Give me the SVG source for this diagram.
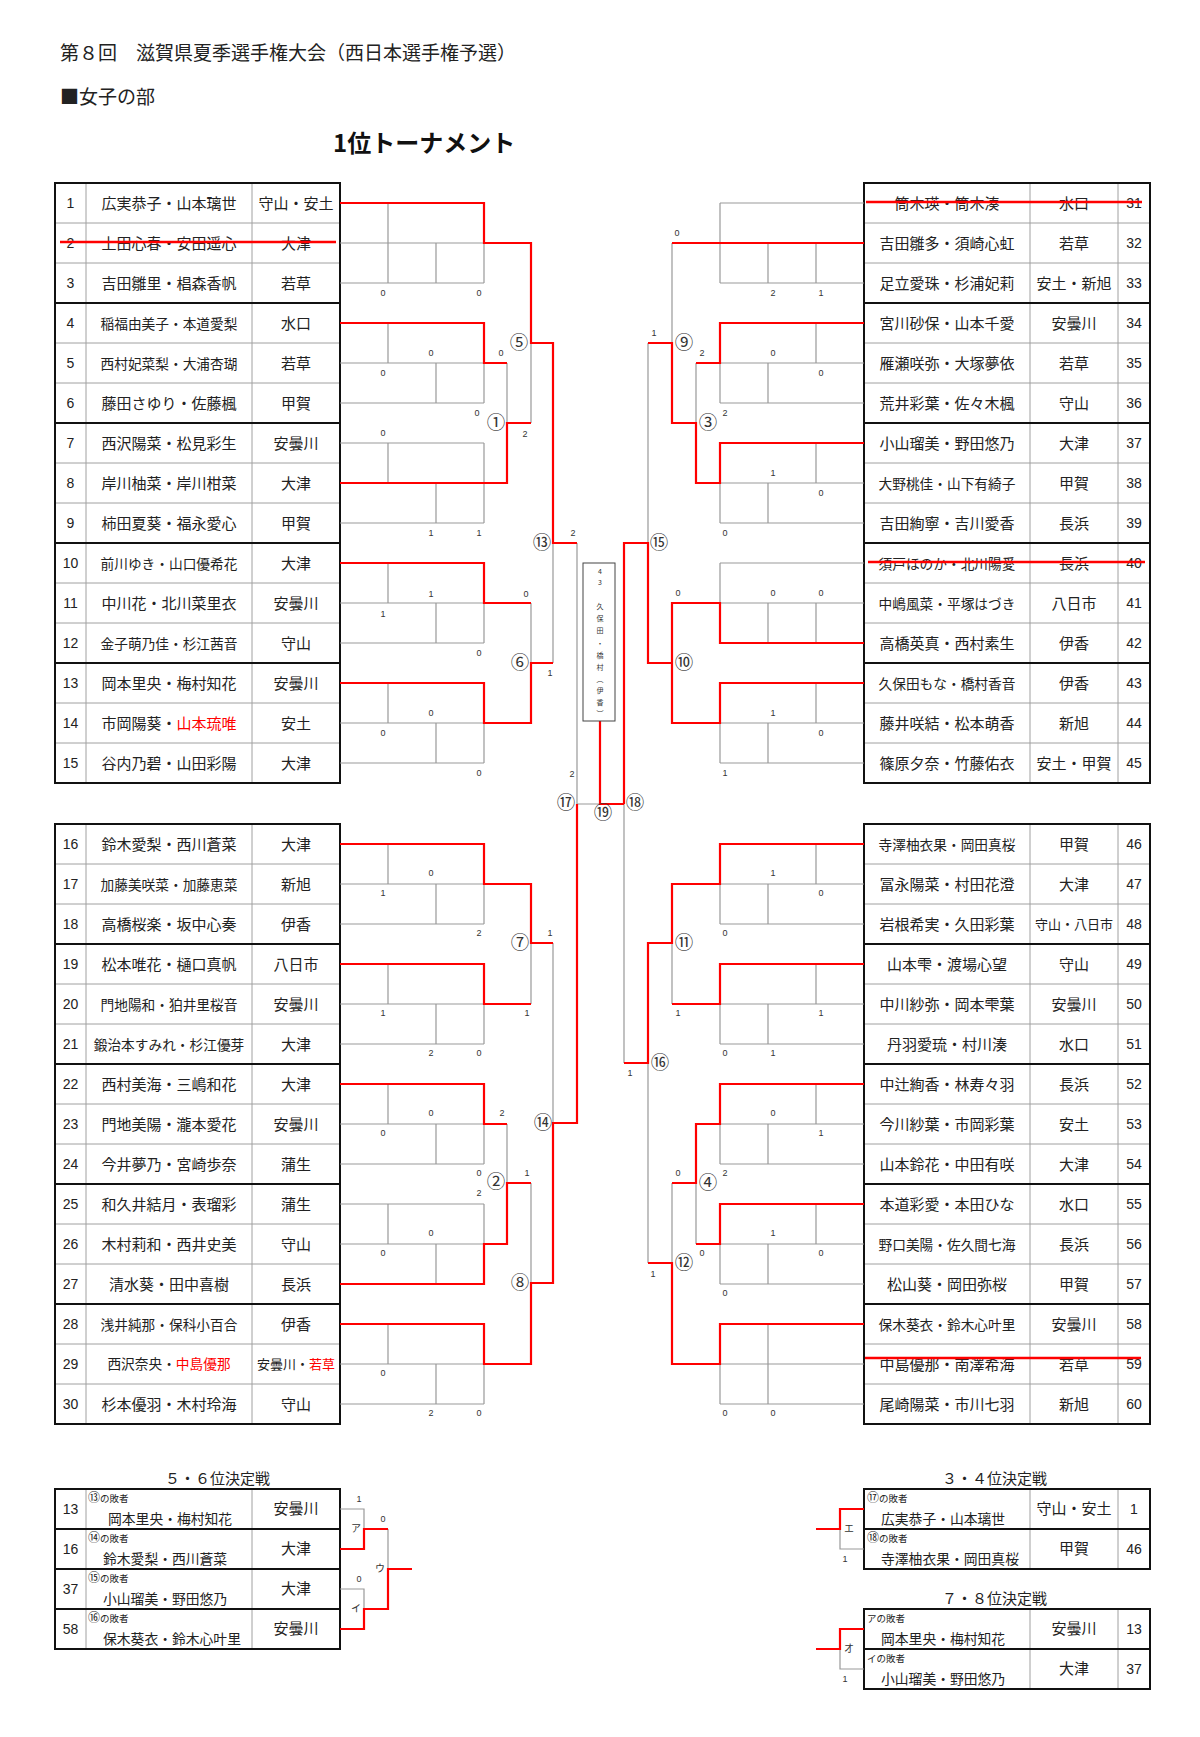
<svg xmlns="http://www.w3.org/2000/svg" width="1200" height="1737" viewBox="0 0 1200 1737">
<style>
.g{stroke:#999;stroke-width:1.2;fill:none}
.r{stroke:#f00;stroke-width:2.2;fill:none}
.tk{stroke:#111;stroke-width:2;fill:none}
.tn{stroke:#a0a0a0;stroke-width:1;fill:none}
.st{stroke:#f00;stroke-width:2.4}
text{font-family:"Noto Sans CJK JP","Noto Sans CJK SC",sans-serif;fill:#222}
.n{font-family:"Liberation Sans",Arial,sans-serif;font-size:14px;text-anchor:middle}
.m{font-size:15px;text-anchor:middle}
.m10{font-size:13.7px}
.t{font-size:15px;text-anchor:middle}
.t6{font-size:13px}
.sc{font-family:"Liberation Sans",Arial,sans-serif;font-size:9px;text-anchor:middle;fill:#333}
.lb{font-size:18.5px;text-anchor:middle;fill:#333}
.kn{font-size:10px;text-anchor:middle;fill:#333}
.sm{font-size:9.5px}
.ci{font-size:12px}
.bn{font-size:13.8px}
.red{fill:#f00}
.vt{font-size:7px;text-anchor:middle;fill:#333}
</style>
<rect width="1200" height="1737" fill="#fff"/>

<g id="header">
<text x="60" y="60" style="font-size:19px">第８回　滋賀県夏季選手権大会（西日本選手権予選）</text>
<text x="60" y="104" style="font-size:19px">■女子の部</text>
<text x="333" y="152" style="font-size:24px;font-weight:700;fill:#111">1位トーナメント</text>
</g>

<g id="tables">
<path class="tn" d="M55,223H340M55,263H340M55,343H340M55,383H340M55,463H340M55,503H340M55,583H340M55,623H340M55,703H340M55,743H340M86,183V783M252,183V783"/>
<path class="tk" d="M55,303H340M55,423H340M55,543H340M55,663H340"/>
<rect class="tk" x="55" y="183" width="285" height="600"/>
<path class="tn" d="M55,864H340M55,904H340M55,984H340M55,1024H340M55,1104H340M55,1144H340M55,1224H340M55,1264H340M55,1344H340M55,1384H340M86,824V1424M252,824V1424"/>
<path class="tk" d="M55,944H340M55,1064H340M55,1184H340M55,1304H340"/>
<rect class="tk" x="55" y="824" width="285" height="600"/>
<path class="tn" d="M864,223H1150M864,263H1150M864,343H1150M864,383H1150M864,463H1150M864,503H1150M864,583H1150M864,623H1150M864,703H1150M864,743H1150M1030,183V783M1118,183V783"/>
<path class="tk" d="M864,303H1150M864,423H1150M864,543H1150M864,663H1150"/>
<rect class="tk" x="864" y="183" width="286" height="600"/>
<path class="tn" d="M864,864H1150M864,904H1150M864,984H1150M864,1024H1150M864,1104H1150M864,1144H1150M864,1224H1150M864,1264H1150M864,1344H1150M864,1384H1150M1030,824V1424M1118,824V1424"/>
<path class="tk" d="M864,944H1150M864,1064H1150M864,1184H1150M864,1304H1150"/>
<rect class="tk" x="864" y="824" width="286" height="600"/>
<path class="tn" d="M86,1489V1649M252,1489V1649M1030,1489V1569M1118,1489V1569M1030,1609V1689M1118,1609V1689"/>
<path class="tk" d="M55,1529H340M55,1569H340M55,1609H340M864,1529H1150M864,1649H1150"/>
<rect class="tk" x="55" y="1489" width="285" height="160"/>
<rect class="tk" x="864" y="1489" width="286" height="80"/>
<rect class="tk" x="864" y="1609" width="286" height="80"/>
</g>

<g id="connectors">
<path class="g" d="M340,203H484M340,243H484M340,283H484M388,203V283M436,243V283M484,203V283
M340,323H484M340,363H484M340,403H484M388,323V363M436,363V403M484,323V403
M340,443H484M340,483H484M340,523H484M388,443V483M436,483V523M484,443V523
M340,563H484M340,603H484M340,643H484M388,563V603M436,603V643M484,563V643
M340,683H484M340,723H484M340,763H484M388,683V723M436,723V763M484,683V763
M340,844H484M340,884H484M340,924H484M388,844V884M436,884V924M484,844V924
M340,964H484M340,1004H484M340,1044H484M388,964V1004M436,1004V1044M484,964V1044
M340,1084H484M340,1124H484M340,1164H484M388,1084V1124M436,1124V1164M484,1084V1164
M340,1204H484M340,1244H484M340,1284H484M388,1204V1244M436,1244V1284M484,1204V1284
M340,1324H484M340,1364H484M340,1404H484M388,1324V1364M436,1364V1404M484,1324V1404
M507,363V483M531,243V423M531,603V723M553,343V663M531,884V1004M507,1124V1244M531,1183V1364M553,943V1283M577,543V1123M577,804H600"/>
<path class="g" d="M864,203H720M864,243H720M864,283H720M720,203V283M768,243V283M816,243V283
M864,323H720M864,363H720M864,403H720M720,323V403M768,363V403M816,323V363
M864,443H720M864,483H720M864,523H720M720,443V523M768,483V523M816,443V483
M864,563H720M864,603H720M864,643H720M720,563V643M768,603V643M816,603V643
M864,683H720M864,723H720M864,763H720M720,683V763M768,723V763M816,683V723
M864,844H720M864,884H720M864,924H720M720,844V924M768,884V924M816,844V884
M864,964H720M864,1004H720M864,1044H720M720,964V1044M768,1004V1044M816,964V1004
M864,1084H720M864,1124H720M864,1164H720M720,1084V1164M768,1124V1164M816,1084V1124
M864,1204H720M864,1244H720M864,1284H720M720,1204V1284M768,1244V1284M816,1204V1244
M864,1324H720M864,1364H720M864,1404H720M720,1324V1404M768,1324V1404
M672,243V423M696,363V483M672,603V723M648,343V663M672,884V1004M696,1124V1244M672,1183V1364M648,943V1263M624,543V1063"/>
<path class="r" d="M340,203H484V243H531V343H553V543H577
M340,323H484V363H507
M340,483H507V423H531
M340,563H484V603H531
M340,683H484V723H531V663H553
M340,844H484V884H531V943H553
M340,964H484V1004H531
M340,1084H484V1124H507
M340,1284H484V1244H507V1183H531
M340,1324H484V1364H531V1283H553V1123H577V804
M600,721V804H624
M864,243H672
M864,323H720V363H696
M864,443H720V483H696V423H672V343H648
M864,643H720V603H672V663
M864,683H720V723H672V663H648V543H624V804
M864,844H720V884H672V943H648V1063H624
M864,964H720V1004H672
M864,1084H720V1124H696V1183H672
M864,1204H720V1244H696
M864,1324H720V1364H672V1263H648"/>
<path class="g" d="M340,1509H364V1549M340,1589H364V1629M388,1529V1569M840,1529V1549H864M840,1649V1669H864"/>
<path class="r" d="M340,1549H364V1529H388M340,1629H364V1609H388V1569H412M864,1509H840V1529H816M864,1629H840V1649H816"/>
</g>

<g id="match-labels">
<text class="lb" x="496" y="429">①</text>
<text class="lb" x="496" y="1188">②</text>
<text class="lb" x="708" y="429">③</text>
<text class="lb" x="708" y="1189">④</text>
<text class="lb" x="519" y="349">⑤</text>
<text class="lb" x="520" y="669">⑥</text>
<text class="lb" x="520" y="949">⑦</text>
<text class="lb" x="520" y="1289">⑧</text>
<text class="lb" x="684" y="349">⑨</text>
<text class="lb" x="684" y="669">⑩</text>
<text class="lb" x="684" y="949">⑪</text>
<text class="lb" x="684" y="1269">⑫</text>
<text class="lb" x="542" y="549">⑬</text>
<text class="lb" x="543" y="1129">⑭</text>
<text class="lb" x="659" y="549">⑮</text>
<text class="lb" x="660" y="1069">⑯</text>
<text class="lb" x="566" y="809">⑰</text>
<text class="lb" x="635" y="809">⑱</text>
<text class="lb" x="603" y="819">⑲</text>
<text class="kn" x="356" y="1532">ア</text>
<text class="kn" x="356" y="1612">イ</text>
<text class="kn" x="380" y="1572">ウ</text>
<text class="kn" x="849" y="1532">エ</text>
<text class="kn" x="849" y="1652">オ</text>
</g>

<g id="scores">
<text class="sc" x="383" y="296">0</text><text class="sc" x="479" y="296">0</text>
<text class="sc" x="431" y="356">0</text><text class="sc" x="383" y="376">0</text><text class="sc" x="501" y="356">0</text><text class="sc" x="477" y="416">0</text>
<text class="sc" x="525" y="437">2</text>
<text class="sc" x="383" y="436">0</text><text class="sc" x="431" y="536">1</text><text class="sc" x="479" y="536">1</text>
<text class="sc" x="573" y="536">2</text>
<text class="sc" x="431" y="597">1</text><text class="sc" x="383" y="617">1</text><text class="sc" x="526" y="597">0</text><text class="sc" x="479" y="656">0</text>
<text class="sc" x="550" y="676">1</text>
<text class="sc" x="431" y="716">0</text><text class="sc" x="383" y="736">0</text><text class="sc" x="479" y="776">0</text>
<text class="sc" x="572" y="777">2</text>
<text class="sc" x="431" y="876">0</text><text class="sc" x="383" y="896">1</text><text class="sc" x="479" y="936">2</text>
<text class="sc" x="550" y="936">1</text><text class="sc" x="527" y="1016">1</text>
<text class="sc" x="383" y="1016">1</text><text class="sc" x="431" y="1056">2</text><text class="sc" x="479" y="1056">0</text>
<text class="sc" x="431" y="1116">0</text><text class="sc" x="502" y="1116">2</text><text class="sc" x="383" y="1136">0</text><text class="sc" x="479" y="1176">0</text>
<text class="sc" x="527" y="1176">1</text><text class="sc" x="479" y="1196">2</text>
<text class="sc" x="431" y="1236">0</text><text class="sc" x="383" y="1256">0</text>
<text class="sc" x="383" y="1376">0</text><text class="sc" x="431" y="1416">2</text><text class="sc" x="479" y="1416">0</text>
<text class="sc" x="677" y="236">0</text><text class="sc" x="773" y="296">2</text><text class="sc" x="821" y="296">1</text>
<text class="sc" x="654" y="336">1</text>
<text class="sc" x="702" y="356">2</text><text class="sc" x="773" y="356">0</text><text class="sc" x="821" y="376">0</text><text class="sc" x="725" y="416">2</text>
<text class="sc" x="773" y="476">1</text><text class="sc" x="821" y="496">0</text><text class="sc" x="725" y="536">0</text>
<text class="sc" x="678" y="596">0</text><text class="sc" x="773" y="596">0</text><text class="sc" x="821" y="596">0</text>
<text class="sc" x="773" y="716">1</text><text class="sc" x="821" y="736">0</text><text class="sc" x="725" y="776">1</text>
<text class="sc" x="773" y="876">1</text><text class="sc" x="821" y="896">0</text><text class="sc" x="725" y="936">0</text>
<text class="sc" x="678" y="1016">1</text><text class="sc" x="821" y="1016">1</text><text class="sc" x="725" y="1056">0</text><text class="sc" x="773" y="1056">1</text>
<text class="sc" x="630" y="1076">1</text>
<text class="sc" x="773" y="1116">0</text><text class="sc" x="821" y="1136">1</text><text class="sc" x="725" y="1176">2</text><text class="sc" x="678" y="1176">0</text>
<text class="sc" x="773" y="1236">1</text><text class="sc" x="702" y="1256">0</text><text class="sc" x="821" y="1256">0</text><text class="sc" x="725" y="1296">0</text>
<text class="sc" x="653" y="1277">1</text>
<text class="sc" x="725" y="1416">0</text><text class="sc" x="773" y="1416">0</text>
<text class="sc" x="359" y="1502">1</text><text class="sc" x="383" y="1522">0</text><text class="sc" x="359" y="1582">0</text>
<text class="sc" x="845" y="1562">1</text><text class="sc" x="845" y="1682">1</text>
</g>

<g id="champion">
<rect x="583" y="563" width="32" height="158" fill="#fff" stroke="#444" stroke-width="1"/>
<text class="vt" x="600" y="574">4</text>
<text class="vt" x="600" y="585">3</text>
<text class="vt" x="600" y="609">久</text>
<text class="vt" x="600" y="621">保</text>
<text class="vt" x="600" y="633">田</text>
<text class="vt" x="600" y="646">・</text>
<text class="vt" x="600" y="658">橋</text>
<text class="vt" x="600" y="670">村</text>
<text class="vt" x="600" y="682">︵</text>
<text class="vt" x="600" y="693">伊</text>
<text class="vt" x="600" y="705">香</text>
<text class="vt" x="600" y="716">︶</text>
</g>

<g id="p1"><text class="n" x="70.5" y="208">1</text><text class="m" x="169" y="208.5">広実恭子・山本璃世</text><text class="t" x="296" y="208.5">守山・安土</text></g>
<g id="p2"><text class="n" x="70.5" y="248">2</text><text class="m" x="169" y="248.5">上田心春・安田遥心</text><text class="t" x="296" y="248.5">大津</text></g>
<g id="p3"><text class="n" x="70.5" y="288">3</text><text class="m" x="169" y="288.5">吉田雛里・椙森香帆</text><text class="t" x="296" y="288.5">若草</text></g>
<g id="p4"><text class="n" x="70.5" y="328">4</text><text class="m m10" x="169" y="328.5">稲福由美子・本道愛梨</text><text class="t" x="296" y="328.5">水口</text></g>
<g id="p5"><text class="n" x="70.5" y="368">5</text><text class="m m10" x="169" y="368.5">西村妃菜梨・大浦杏瑚</text><text class="t" x="296" y="368.5">若草</text></g>
<g id="p6"><text class="n" x="70.5" y="408">6</text><text class="m" x="169" y="408.5">藤田さゆり・佐藤楓</text><text class="t" x="296" y="408.5">甲賀</text></g>
<g id="p7"><text class="n" x="70.5" y="448">7</text><text class="m" x="169" y="448.5">西沢陽菜・松見彩生</text><text class="t" x="296" y="448.5">安曇川</text></g>
<g id="p8"><text class="n" x="70.5" y="488">8</text><text class="m" x="169" y="488.5">岸川柚菜・岸川柑菜</text><text class="t" x="296" y="488.5">大津</text></g>
<g id="p9"><text class="n" x="70.5" y="528">9</text><text class="m" x="169" y="528.5">柿田夏葵・福永愛心</text><text class="t" x="296" y="528.5">甲賀</text></g>
<g id="p10"><text class="n" x="70.5" y="568">10</text><text class="m m10" x="169" y="568.5">前川ゆき・山口優希花</text><text class="t" x="296" y="568.5">大津</text></g>
<g id="p11"><text class="n" x="70.5" y="608">11</text><text class="m" x="169" y="608.5">中川花・北川菜里衣</text><text class="t" x="296" y="608.5">安曇川</text></g>
<g id="p12"><text class="n" x="70.5" y="648">12</text><text class="m m10" x="169" y="648.5">金子萌乃佳・杉江茜音</text><text class="t" x="296" y="648.5">守山</text></g>
<g id="p13"><text class="n" x="70.5" y="688">13</text><text class="m" x="169" y="688.5">岡本里央・梅村知花</text><text class="t" x="296" y="688.5">安曇川</text></g>
<g id="p14"><text class="n" x="70.5" y="728">14</text><text class="m" x="169" y="728.5">市岡陽葵・<tspan class="red">山本琉唯</tspan></text><text class="t" x="296" y="728.5">安土</text></g>
<g id="p15"><text class="n" x="70.5" y="768">15</text><text class="m" x="169" y="768.5">谷内乃碧・山田彩陽</text><text class="t" x="296" y="768.5">大津</text></g>
<g id="p16"><text class="n" x="70.5" y="849">16</text><text class="m" x="169" y="849.5">鈴木愛梨・西川蒼菜</text><text class="t" x="296" y="849.5">大津</text></g>
<g id="p17"><text class="n" x="70.5" y="889">17</text><text class="m m10" x="169" y="889.5">加藤美咲菜・加藤恵菜</text><text class="t" x="296" y="889.5">新旭</text></g>
<g id="p18"><text class="n" x="70.5" y="929">18</text><text class="m" x="169" y="929.5">高橋桜楽・坂中心奏</text><text class="t" x="296" y="929.5">伊香</text></g>
<g id="p19"><text class="n" x="70.5" y="969">19</text><text class="m" x="169" y="969.5">松本唯花・樋口真帆</text><text class="t" x="296" y="969.5">八日市</text></g>
<g id="p20"><text class="n" x="70.5" y="1009">20</text><text class="m m10" x="169" y="1009.5">門地陽和・狛井里桜音</text><text class="t" x="296" y="1009.5">安曇川</text></g>
<g id="p21"><text class="n" x="70.5" y="1049">21</text><text class="m m10" x="169" y="1049.5">鍛治本すみれ・杉江優芽</text><text class="t" x="296" y="1049.5">大津</text></g>
<g id="p22"><text class="n" x="70.5" y="1089">22</text><text class="m" x="169" y="1089.5">西村美海・三嶋和花</text><text class="t" x="296" y="1089.5">大津</text></g>
<g id="p23"><text class="n" x="70.5" y="1129">23</text><text class="m" x="169" y="1129.5">門地美陽・瀧本愛花</text><text class="t" x="296" y="1129.5">安曇川</text></g>
<g id="p24"><text class="n" x="70.5" y="1169">24</text><text class="m" x="169" y="1169.5">今井夢乃・宮崎歩奈</text><text class="t" x="296" y="1169.5">蒲生</text></g>
<g id="p25"><text class="n" x="70.5" y="1209">25</text><text class="m" x="169" y="1209.5">和久井結月・表瑠彩</text><text class="t" x="296" y="1209.5">蒲生</text></g>
<g id="p26"><text class="n" x="70.5" y="1249">26</text><text class="m" x="169" y="1249.5">木村莉和・西井史美</text><text class="t" x="296" y="1249.5">守山</text></g>
<g id="p27"><text class="n" x="70.5" y="1289">27</text><text class="m" x="169" y="1289.5">清水葵・田中喜樹</text><text class="t" x="296" y="1289.5">長浜</text></g>
<g id="p28"><text class="n" x="70.5" y="1329">28</text><text class="m m10" x="169" y="1329.5">浅井純那・保科小百合</text><text class="t" x="296" y="1329.5">伊香</text></g>
<g id="p29"><text class="n" x="70.5" y="1369">29</text><text class="m m10" x="169" y="1369">西沢奈央・<tspan class="red">中島優那</tspan></text><text class="t t6" x="296" y="1369">安曇川・<tspan class="red">若草</tspan></text></g>
<g id="p30"><text class="n" x="70.5" y="1409">30</text><text class="m" x="169" y="1409.5">杉本優羽・木村玲海</text><text class="t" x="296" y="1409.5">守山</text></g>

<g id="p31"><text class="m" x="947" y="208.5">筒木瑛・筒木湊</text><text class="t" x="1074" y="208.5">水口</text><text class="n" x="1134" y="208">31</text></g>
<g id="p32"><text class="m" x="947" y="248.5">吉田雛多・須崎心虹</text><text class="t" x="1074" y="248.5">若草</text><text class="n" x="1134" y="248">32</text></g>
<g id="p33"><text class="m" x="947" y="288.5">足立愛珠・杉浦妃莉</text><text class="t" x="1074" y="288.5">安土・新旭</text><text class="n" x="1134" y="288">33</text></g>
<g id="p34"><text class="m" x="947" y="328.5">宮川砂保・山本千愛</text><text class="t" x="1074" y="328.5">安曇川</text><text class="n" x="1134" y="328">34</text></g>
<g id="p35"><text class="m" x="947" y="368.5">雁瀬咲弥・大塚夢依</text><text class="t" x="1074" y="368.5">若草</text><text class="n" x="1134" y="368">35</text></g>
<g id="p36"><text class="m" x="947" y="408.5">荒井彩葉・佐々木楓</text><text class="t" x="1074" y="408.5">守山</text><text class="n" x="1134" y="408">36</text></g>
<g id="p37"><text class="m" x="947" y="448.5">小山瑠美・野田悠乃</text><text class="t" x="1074" y="448.5">大津</text><text class="n" x="1134" y="448">37</text></g>
<g id="p38"><text class="m m10" x="947" y="488.5">大野桃佳・山下有綺子</text><text class="t" x="1074" y="488.5">甲賀</text><text class="n" x="1134" y="488">38</text></g>
<g id="p39"><text class="m" x="947" y="528.5">吉田絢寧・吉川愛香</text><text class="t" x="1074" y="528.5">長浜</text><text class="n" x="1134" y="528">39</text></g>
<g id="p40"><text class="m m10" x="947" y="568.5">須戸ほのか・北川陽愛</text><text class="t" x="1074" y="568.5">長浜</text><text class="n" x="1134" y="568">40</text></g>
<g id="p41"><text class="m m10" x="947" y="608.5">中嶋風菜・平塚はづき</text><text class="t" x="1074" y="608.5">八日市</text><text class="n" x="1134" y="608">41</text></g>
<g id="p42"><text class="m" x="947" y="648.5">高橋英真・西村素生</text><text class="t" x="1074" y="648.5">伊香</text><text class="n" x="1134" y="648">42</text></g>
<g id="p43"><text class="m m10" x="947" y="688.5">久保田もな・橋村香音</text><text class="t" x="1074" y="688.5">伊香</text><text class="n" x="1134" y="688">43</text></g>
<g id="p44"><text class="m" x="947" y="728.5">藤井咲結・松本萌香</text><text class="t" x="1074" y="728.5">新旭</text><text class="n" x="1134" y="728">44</text></g>
<g id="p45"><text class="m" x="947" y="768.5">篠原夕奈・竹藤佑衣</text><text class="t" x="1074" y="768.5">安土・甲賀</text><text class="n" x="1134" y="768">45</text></g>
<g id="p46"><text class="m m10" x="947" y="849.5">寺澤柚衣果・岡田真桜</text><text class="t" x="1074" y="849.5">甲賀</text><text class="n" x="1134" y="849">46</text></g>
<g id="p47"><text class="m" x="947" y="889.5">冨永陽菜・村田花澄</text><text class="t" x="1074" y="889.5">大津</text><text class="n" x="1134" y="889">47</text></g>
<g id="p48"><text class="m" x="947" y="929.5">岩根希実・久田彩葉</text><text class="t t6" x="1074" y="929">守山・八日市</text><text class="n" x="1134" y="929">48</text></g>
<g id="p49"><text class="m" x="947" y="969.5">山本雫・渡場心望</text><text class="t" x="1074" y="969.5">守山</text><text class="n" x="1134" y="969">49</text></g>
<g id="p50"><text class="m" x="947" y="1009.5">中川紗弥・岡本雫葉</text><text class="t" x="1074" y="1009.5">安曇川</text><text class="n" x="1134" y="1009">50</text></g>
<g id="p51"><text class="m" x="947" y="1049.5">丹羽愛琉・村川湊</text><text class="t" x="1074" y="1049.5">水口</text><text class="n" x="1134" y="1049">51</text></g>
<g id="p52"><text class="m" x="947" y="1089.5">中辻絢香・林寿々羽</text><text class="t" x="1074" y="1089.5">長浜</text><text class="n" x="1134" y="1089">52</text></g>
<g id="p53"><text class="m" x="947" y="1129.5">今川紗葉・市岡彩葉</text><text class="t" x="1074" y="1129.5">安土</text><text class="n" x="1134" y="1129">53</text></g>
<g id="p54"><text class="m" x="947" y="1169.5">山本鈴花・中田有咲</text><text class="t" x="1074" y="1169.5">大津</text><text class="n" x="1134" y="1169">54</text></g>
<g id="p55"><text class="m" x="947" y="1209.5">本道彩愛・本田ひな</text><text class="t" x="1074" y="1209.5">水口</text><text class="n" x="1134" y="1209">55</text></g>
<g id="p56"><text class="m m10" x="947" y="1249.5">野口美陽・佐久間七海</text><text class="t" x="1074" y="1249.5">長浜</text><text class="n" x="1134" y="1249">56</text></g>
<g id="p57"><text class="m" x="947" y="1289.5">松山葵・岡田弥桜</text><text class="t" x="1074" y="1289.5">甲賀</text><text class="n" x="1134" y="1289">57</text></g>
<g id="p58"><text class="m m10" x="947" y="1329.5">保木葵衣・鈴木心叶里</text><text class="t" x="1074" y="1329.5">安曇川</text><text class="n" x="1134" y="1329">58</text></g>
<g id="p59"><text class="m" x="947" y="1369.5">中島優那・南澤希海</text><text class="t" x="1074" y="1369.5">若草</text><text class="n" x="1134" y="1369">59</text></g>
<g id="p60"><text class="m" x="947" y="1409.5">尾崎陽菜・市川七羽</text><text class="t" x="1074" y="1409.5">新旭</text><text class="n" x="1134" y="1409">60</text></g>

<g id="strikes">
<line class="st" x1="60" y1="242" x2="336" y2="242"/>
<line class="st" x1="866" y1="202" x2="1142" y2="202"/>
<line class="st" x1="868" y1="562" x2="1145" y2="562"/>
<line class="st" x1="865" y1="1358" x2="1141" y2="1358"/>
</g>

<g id="place56">
<text x="165" y="1484" style="font-size:15px">５・６位決定戦</text>
<g id="c13"><text class="n" x="70.5" y="1514">13</text><text class="sm" x="88" y="1502"><tspan class="ci">⑬</tspan>の敗者</text><text class="bn" x="108" y="1524">岡本里央・梅村知花</text><text class="t" x="296" y="1514">安曇川</text></g>
<g id="c16"><text class="n" x="70.5" y="1554">16</text><text class="sm" x="88" y="1542"><tspan class="ci">⑭</tspan>の敗者</text><text class="bn" x="103" y="1564">鈴木愛梨・西川蒼菜</text><text class="t" x="296" y="1554">大津</text></g>
<g id="c37"><text class="n" x="70.5" y="1594">37</text><text class="sm" x="88" y="1582"><tspan class="ci">⑮</tspan>の敗者</text><text class="bn" x="103" y="1604">小山瑠美・野田悠乃</text><text class="t" x="296" y="1594">大津</text></g>
<g id="c58"><text class="n" x="70.5" y="1634">58</text><text class="sm" x="88" y="1622"><tspan class="ci">⑯</tspan>の敗者</text><text class="bn" x="103" y="1644">保木葵衣・鈴木心叶里</text><text class="t" x="296" y="1634">安曇川</text></g>
</g>

<g id="place34">
<text x="942" y="1484" style="font-size:15px">３・４位決定戦</text>
<g id="d1"><text class="sm" x="867" y="1502"><tspan class="ci">⑰</tspan>の敗者</text><text class="bn" x="881" y="1524">広実恭子・山本璃世</text><text class="t" x="1074" y="1514">守山・安土</text><text class="n" x="1134" y="1514">1</text></g>
<g id="d46"><text class="sm" x="867" y="1542"><tspan class="ci">⑱</tspan>の敗者</text><text class="bn" x="881" y="1564">寺澤柚衣果・岡田真桜</text><text class="t" x="1074" y="1554">甲賀</text><text class="n" x="1134" y="1554">46</text></g>
</g>

<g id="place78">
<text x="942" y="1604" style="font-size:15px">７・８位決定戦</text>
<g id="e13"><text class="sm" x="867" y="1622">アの敗者</text><text class="bn" x="881" y="1644">岡本里央・梅村知花</text><text class="t" x="1074" y="1634">安曇川</text><text class="n" x="1134" y="1634">13</text></g>
<g id="e37"><text class="sm" x="867" y="1662">イの敗者</text><text class="bn" x="881" y="1684">小山瑠美・野田悠乃</text><text class="t" x="1074" y="1674">大津</text><text class="n" x="1134" y="1674">37</text></g>
</g>
</svg>
